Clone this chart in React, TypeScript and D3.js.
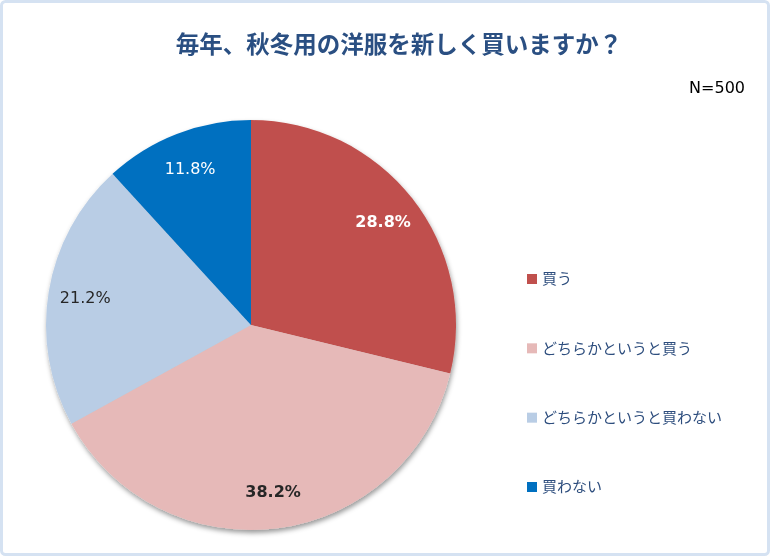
import React, { useEffect, useRef } from 'react';
import * as d3 from 'd3';

const categories = ['買う', 'どちらかというと買う', 'どちらかというと買わない', '買わない'];
const values = [28.8, 38.2, 21.2, 11.8];
const colors = ['#C0504D', '#E6B9B8', '#B9CDE5', '#0070C0'];
const labelColors = ['#ffffff', '#262626', '#262626', '#ffffff'];
const labelWeights = ['bold', 'bold', 'normal', 'normal'];

const App = () => {
  const chartRef = useRef<SVGSVGElement>(null);

  useEffect(() => {
    const width = 770;
    const height = 556;
    const cx = 251;
    const cy = 325;
    const radius = 205;
    const jp = '"Noto Sans CJK JP", sans-serif';
    const latin = '"DejaVu Sans", Verdana, sans-serif';

    const svg = d3.select(chartRef.current).attr('width', width).attr('height', height);
    svg.selectAll('*').remove();

    const defs = svg.append('defs');
    const filter = defs
      .append('filter')
      .attr('id', 'shadow')
      .attr('x', '-10%')
      .attr('y', '-10%')
      .attr('width', '120%')
      .attr('height', '120%');
    filter
      .append('feDropShadow')
      .attr('dx', 1)
      .attr('dy', 3)
      .attr('stdDeviation', 2.5)
      .attr('flood-color', '#000')
      .attr('flood-opacity', 0.4);

    // frame
    svg
      .append('rect')
      .attr('x', 1.5)
      .attr('y', 1.5)
      .attr('width', width - 3)
      .attr('height', height - 3)
      .attr('rx', 4)
      .attr('fill', '#fff')
      .attr('stroke', '#D5E2F2')
      .attr('stroke-width', 3);

    svg
      .append('text')
      .attr('x', 399)
      .attr('y', 53)
      .attr('text-anchor', 'middle')
      .attr('font-family', jp)
      .attr('font-size', 23.5)
      .attr('font-weight', 'bold')
      .attr('fill', '#2A4F82')
      .text('毎年、秋冬用の洋服を新しく買いますか？');

    svg
      .append('text')
      .attr('x', 745)
      .attr('y', 93)
      .attr('text-anchor', 'end')
      .attr('font-family', latin)
      .attr('font-size', 16)
      .attr('fill', '#000')
      .text('N=500');

    const pie = d3.pie<number>().value(d => d).sort(null);
    const arc = d3.arc<d3.PieArcDatum<number>>().innerRadius(0).outerRadius(radius);
    const labelArc = d3.arc<d3.PieArcDatum<number>>().innerRadius(168).outerRadius(168);

    const g = svg.append('g').attr('transform', `translate(${cx},${cy})`);
    const slices = pie(values);

    g.append('g')
      .attr('filter', 'url(#shadow)')
      .selectAll('path')
      .data(slices)
      .enter()
      .append('path')
      .attr('d', arc)
      .attr('fill', (d, i) => colors[i]);

    g.selectAll('text.lbl')
      .data(slices)
      .enter()
      .append('text')
      .attr('class', 'lbl')
      .attr('transform', d => `translate(${labelArc.centroid(d)})`)
      .attr('text-anchor', 'middle')
      .attr('dy', '0.35em')
      .attr('font-family', latin)
      .attr('font-size', 16)
      .attr('font-weight', (d, i) => labelWeights[i])
      .attr('fill', (d, i) => labelColors[i])
      .text(d => d.data.toFixed(1) + '%');

    const y = d3.scalePoint<string>().domain(categories).range([279, 487]);
    const legend = svg
      .append('g')
      .selectAll('g')
      .data(categories)
      .enter()
      .append('g')
      .attr('transform', d => `translate(527,${y(d)})`);
    legend
      .append('rect')
      .attr('x', 0)
      .attr('y', -5)
      .attr('width', 10)
      .attr('height', 10)
      .attr('fill', (d, i) => colors[i]);
    legend
      .append('text')
      .attr('x', 15)
      .attr('dy', '0.35em')
      .attr('font-family', jp)
      .attr('font-size', 15)
      .attr('fill', '#2E4E7E')
      .text(d => d);
  }, []);

  return (
    <div style={{ position: 'fixed', left: 0, top: 0 }}>
      <svg ref={chartRef} style={{ display: 'block' }}></svg>
    </div>
  );
};

export default App;
